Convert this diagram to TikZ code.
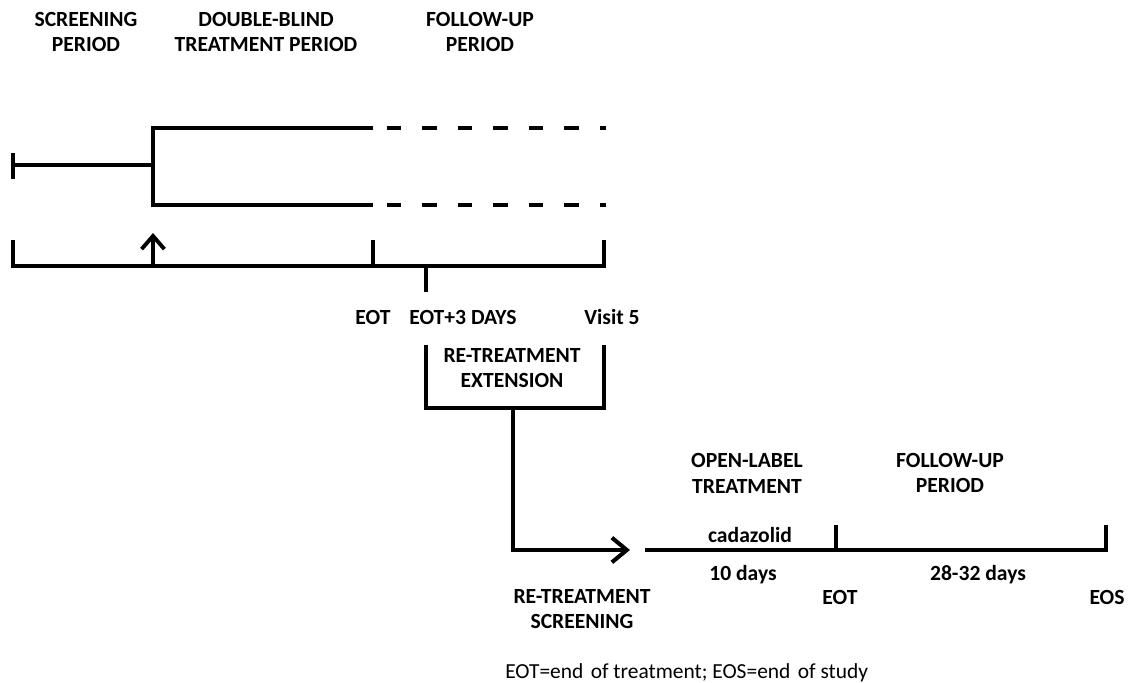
\documentclass[tikz,border=0pt]{standalone}
\usepackage{fontspec}
\setmainfont{Carlito}
\usetikzlibrary{arrows.meta}
\begin{document}
\begin{tikzpicture}[x=0.02cm,y=-0.02cm,
  ln/.style={line width=2.3pt, line join=miter},
  dsh/.style={line width=2.3pt, dash pattern=on 0.29cm off 0.42cm},
  lbl/.style={font=\fontsize{12.3}{14.7}\selectfont\bfseries, align=center, inner sep=0pt},
  foot/.style={font=\fontsize{12.2}{14}\selectfont, inner sep=0pt, anchor=west},
  uparr/.style={-{Straight Barb[length=7.5pt,width=13pt,line width=2.2pt]}},
  rarr/.style={-{Straight Barb[length=8.5pt,width=14pt,line width=2.3pt]}}]
\useasboundingbox (0,0) rectangle (1134,683);

% header labels
\node[lbl] (hscr) at (86,32) {SCREENING\\PERIOD};
\node[lbl] (hdb) at (266,32) {DOUBLE-BLIND\\TREATMENT PERIOD};
\node[lbl] (hfu) at (480,32) {FOLLOW-UP\\PERIOD};

% screening and randomisation branch
\coordinate (sbt) at (13,153);
\coordinate (sbb) at (13,179);
\coordinate (s0) at (13,165);
\coordinate (br) at (153,165);
\coordinate (ta0) at (153,128);
\coordinate (ta1) at (373,128);
\coordinate (ta2) at (387,128);
\coordinate (ta3) at (606,128);
\coordinate (ba0) at (153,205);
\coordinate (ba1) at (373,205);
\coordinate (ba2) at (387,205);
\coordinate (ba3) at (606,205);
\draw[ln] (sbt) -- (sbb);
\draw[ln] (s0) -- (br);
\draw[ln] (ta1) -- (ta0) -- (ba0) -- (ba1);
\draw[dsh] (ta2) -- (ta3);
\draw[dsh] (ba2) -- (ba3);

% timeline
\coordinate (t0) at (13,266);
\coordinate (t0u) at (13,240);
\coordinate (t1) at (604,266);
\coordinate (t1u) at (604,240);
\coordinate (teot) at (373,266);
\coordinate (teotu) at (373,240);
\coordinate (t3) at (426,266);
\coordinate (t3d) at (426,292);
\coordinate (trand) at (153,266);
\coordinate (trandu) at (153,233);
\draw[ln] (t0u) -- (t0) -- (t1) -- (t1u);
\draw[ln] (teot) -- (teotu);
\draw[ln] (t3) -- (t3d);
\draw[ln, uparr] (trand) -- (trandu);

\node[lbl] (leot) at (373,317) {EOT};
\node[lbl] (leot3) at (463,317) {EOT+3 DAYS};
\node[lbl] (lv5) at (612,317) {Visit 5};

% re-treatment extension
\coordinate (r0) at (426,345);
\coordinate (r1) at (426,408);
\coordinate (r2) at (604,408);
\coordinate (r3) at (604,345);
\draw[ln] (r0) -- (r1) -- (r2) -- (r3);
\node[lbl] (lret) at (512,368) {RE-TREATMENT\\EXTENSION};

\coordinate (c0) at (513,408);
\coordinate (c1) at (513,550);
\coordinate (c2) at (630,550);
\draw[ln, rarr] (c0) -- (c1) -- (c2);

% open-label timeline
\coordinate (o0) at (645,550);
\coordinate (o1) at (1106,550);
\coordinate (o1u) at (1106,525);
\coordinate (oe) at (836,550);
\coordinate (oeu) at (836,525);
\draw[ln] (o0) -- (o1) -- (o1u);
\draw[ln] (oe) -- (oeu);

\node[lbl] (lol) at (747,473) {OPEN-LABEL\\TREATMENT};
\node[lbl] (lfu2) at (950,473) {FOLLOW-UP\\PERIOD};
\node[lbl] (lcad) at (750,535) {cadazolid};
\node[lbl] (l10) at (743,575) {10 days};
\node[lbl] (l28) at (978,575) {28-32 days};
\node[lbl] (leot2) at (840,597) {EOT};
\node[lbl] (leos) at (1107,597) {EOS};
\node[lbl] (lrs) at (582,609) {RE-TREATMENT\\SCREENING};

\node[foot] (lfoot) at (505,673) {EOT=end\hspace{0.12em} of treatment; EOS=end\hspace{0.12em} of study};
\end{tikzpicture}
\end{document}
